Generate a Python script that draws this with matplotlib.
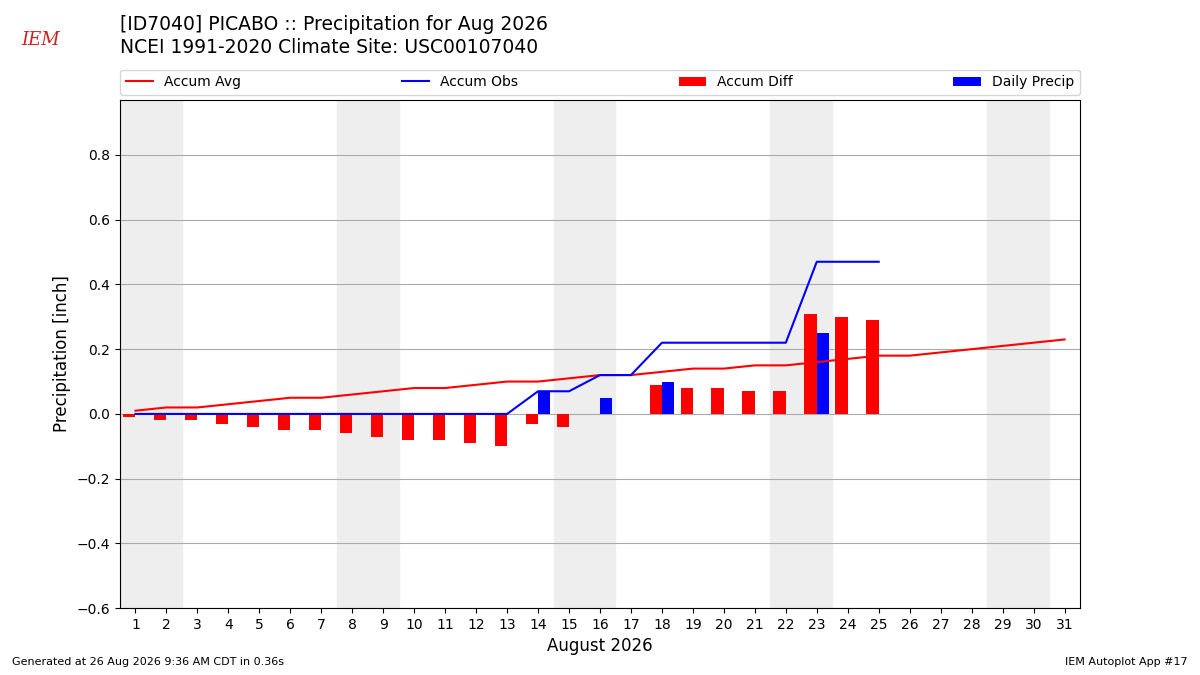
import numpy as np
import matplotlib.pyplot as plt

days = np.arange(1, 32)
accum_avg = [0.01, 0.02, 0.02, 0.03, 0.04, 0.05, 0.05, 0.06, 0.07, 0.08, 0.08,
             0.09, 0.10, 0.10, 0.11, 0.12, 0.12, 0.13, 0.14, 0.14, 0.15, 0.15,
             0.16, 0.17, 0.18, 0.18, 0.19, 0.20, 0.21, 0.22, 0.23]
obs_days = np.arange(1, 26)
daily_precip = [0, 0, 0, 0, 0, 0, 0, 0, 0, 0, 0, 0, 0, 0.07, 0, 0.05, 0, 0.10,
                0, 0, 0, 0, 0.25, 0, 0]
weekends = [1, 8, 15, 22, 29]

accum_obs = np.cumsum(daily_precip)
accum_diff = accum_obs - np.array(accum_avg[:len(obs_days)])

fig = plt.figure(figsize=(12, 6.75), dpi=100)
ax = fig.add_axes([0.1, 0.099, 0.8, 0.753])

for w in weekends:
    ax.axvspan(w - 0.5, w + 1.5, color='#eeeeee', zorder=0)

ax.plot(days, accum_avg, color='r', label='Accum Avg', zorder=3)
ax.plot(obs_days, accum_obs, color='b', label='Accum Obs', zorder=3)
ax.bar(obs_days, accum_diff, width=-0.4, align='edge', color='r', label='Accum Diff', zorder=2)
ax.bar(obs_days, daily_precip, width=0.4, align='edge', color='b', label='Daily Precip', zorder=2)

ax.set_xlim(0.5, 31.5)
ax.set_ylim(-0.6, 0.97)
ax.set_xticks(days)
ax.set_yticks(np.arange(-0.6, 0.81, 0.2))
ax.yaxis.grid(True, color='#aaaaaa')
ax.set_axisbelow(True)
ax.set_xlabel('August 2026', fontsize=12)
ax.set_ylabel('Precipitation [inch]', fontsize=12)
ax.legend(loc='lower left', bbox_to_anchor=(0, 1.01, 1, 0.05), ncol=4,
          mode='expand', borderaxespad=0)

fig.text(0.1, 0.963, '[ID7040] PICABO :: Precipitation for Aug 2026', fontsize=13.5, va='center')
fig.text(0.1, 0.929, 'NCEI 1991-2020 Climate Site: USC00107040', fontsize=13.5, va='center')
fig.text(0.018, 0.933, 'IEM', color='#cc2222', fontsize=13, style='italic', family='serif')
fig.text(0.01, 0.015, 'Generated at 26 Aug 2026 9:36 AM CDT in 0.36s', fontsize=8)
fig.text(0.99, 0.015, 'IEM Autoplot App #17', fontsize=8, ha='right')

fig.savefig('out.png')
